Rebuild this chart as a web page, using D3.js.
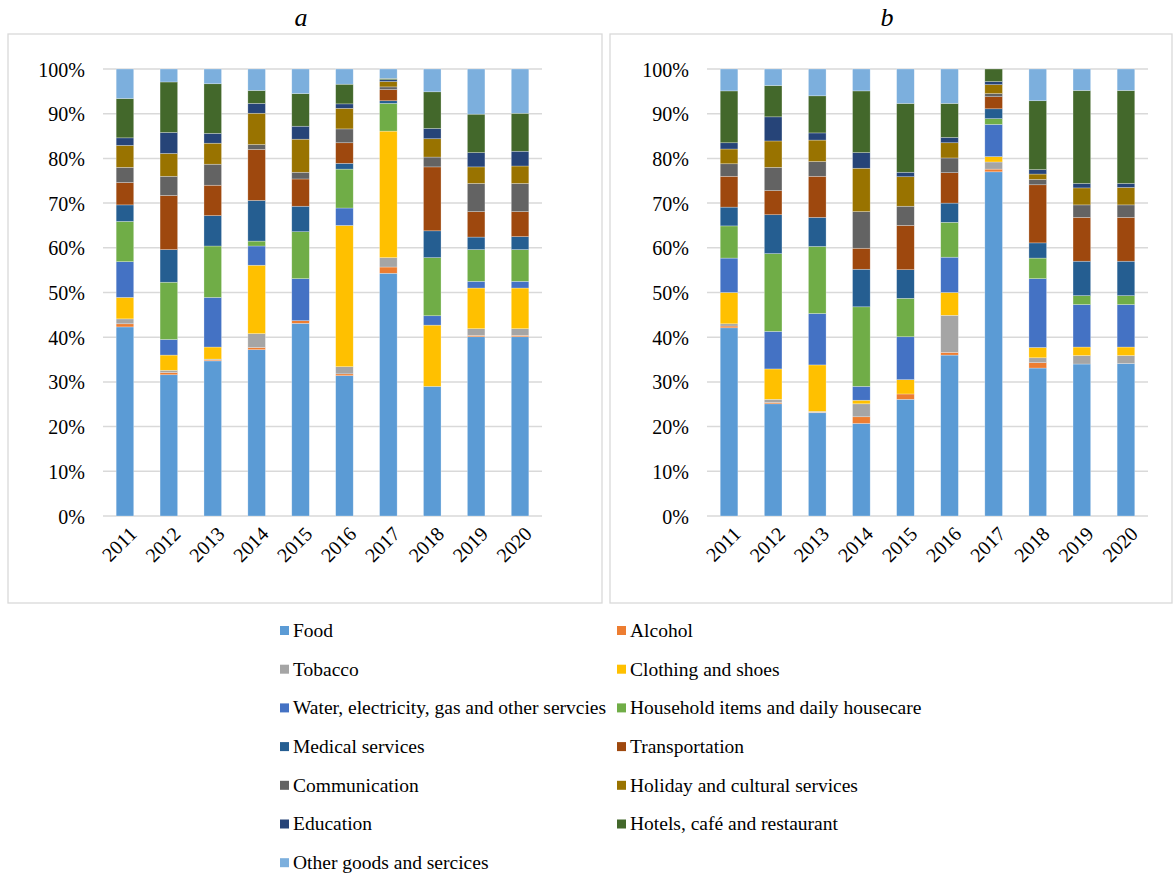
<!DOCTYPE html>
<html>
<head>
<meta charset="utf-8">
<script src="https://cdn.jsdelivr.net/npm/d3@7"></script>
<style>
  body { margin: 0; background: #fff; }
  text { font-family: "Liberation Serif", "Times New Roman", serif; fill: #000; }
</style>
</head>
<body>
<svg id="chart" width="1175" height="874"></svg>
<script>
// years on the x axis
const years = ['2011','2012','2013','2014','2015','2016','2017','2018','2019','2020'];

const categories = [
  'Food', 'Alcohol', 'Tobacco', 'Clothing and shoes',
  'Water, electricity, gas and other servcies', 'Household items and daily housecare',
  'Medical services', 'Transportation', 'Communication',
  'Holiday and cultural services', 'Education', 'Hotels, café and restaurant',
  'Other goods and sercices'
];

const colors = ['#5B9BD5','#ED7D31','#A5A5A5','#FFC000','#4472C4','#70AD47',
                '#255E91','#9E480E','#636363','#997300','#264478','#43682B','#7CAFDD'];

const yTicks = [0, 0.1, 0.2, 0.3, 0.4, 0.5, 0.6, 0.7, 0.8, 0.9, 1];

// panel a, share in % (one row per category, one value per year)
const valuesA = [
  [42.3, 31.6, 34.7, 37.2, 43.1, 31.4, 54.3, 29.0, 40.1, 40.1], // Food
  [0.7, 0.5, 0.2, 0.5, 0.6, 0.4, 1.4, 0, 0.3, 0.3],             // Alcohol
  [1.1, 0.5, 0.2, 3.1, 0, 1.6, 2.1, 0, 1.5, 1.5],               // Tobacco
  [4.8, 3.4, 2.7, 15.3, 0, 31.6, 28.3, 13.7, 9.1, 9.1],         // Clothing
  [8.0, 3.5, 11.1, 4.3, 9.4, 3.9, 0, 2.1, 1.5, 1.5],            // Water etc
  [9.0, 12.8, 11.5, 1.1, 10.5, 8.7, 6.2, 13.0, 7.1, 7.1],       // Household
  [3.7, 7.3, 6.8, 9.1, 5.7, 1.3, 0.6, 6.0, 2.8, 2.9],           // Medical
  [5.0, 12.1, 6.8, 11.4, 6.1, 4.6, 2.5, 14.3, 5.7, 5.6],        // Transportation
  [3.4, 4.3, 4.7, 1.1, 1.5, 3.1, 0.6, 2.2, 6.3, 6.3],           // Communication
  [4.9, 5.1, 4.7, 7.0, 7.4, 4.6, 1.2, 4.1, 3.7, 3.9],           // Holiday
  [1.7, 4.7, 2.2, 2.2, 2.9, 1.0, 0.4, 2.3, 3.2, 3.3],           // Education
  [8.8, 11.3, 11.1, 2.9, 7.3, 4.4, 0.3, 8.2, 8.6, 8.5],         // Hotels
  [6.6, 2.9, 3.3, 4.8, 5.5, 3.4, 2.1, 5.1, 10.1, 9.9]           // Other
];

// panel b
const valuesB = [
  [42.1, 25.1, 23.1, 20.7, 26.1, 36.0, 77.0, 33.1, 34.0, 34.1], // Food
  [0.4, 0.3, 0.1, 1.5, 1.2, 0.6, 0.6, 1.2, 0, 0],               // Alcohol
  [0.5, 0.7, 0.2, 2.9, 0, 8.3, 1.6, 1.1, 1.9, 1.8],             // Tobacco
  [7.0, 6.8, 10.4, 0.8, 3.2, 5.1, 1.2, 2.3, 1.9, 1.9],          // Clothing
  [7.7, 8.4, 11.5, 3.1, 9.6, 7.9, 7.2, 15.4, 9.5, 9.5],         // Water etc
  [7.2, 17.4, 15.0, 17.8, 8.6, 7.8, 1.3, 4.6, 2.0, 2.0],        // Household
  [4.2, 8.7, 6.5, 8.4, 6.4, 4.3, 2.2, 3.4, 7.7, 7.7],           // Medical
  [6.9, 5.4, 9.2, 4.7, 9.9, 6.8, 2.7, 13.0, 9.8, 9.8],          // Transportation
  [2.8, 5.2, 3.3, 8.2, 4.3, 3.3, 0.7, 1.2, 2.8, 2.8],           // Communication
  [3.3, 5.9, 4.8, 9.7, 6.6, 3.4, 2.0, 1.2, 3.8, 3.9],           // Holiday
  [1.4, 5.4, 1.6, 3.5, 1.0, 1.2, 0.7, 1.0, 1.0, 0.9],           // Education
  [11.6, 7.0, 8.3, 13.8, 15.4, 7.6, 2.8, 15.4, 20.8, 20.8],     // Hotels
  [4.9, 3.7, 6.0, 4.9, 7.7, 7.7, 0, 7.1, 4.8, 4.8]              // Other
];

const svg = d3.select('#chart');
const gridColor = '#d9d9d9';

function drawPanel(title, values, frame, plot) {
  // outer frame
  svg.append('rect')
    .attr('x', frame.x).attr('y', frame.y)
    .attr('width', frame.w).attr('height', frame.h)
    .attr('fill', 'none').attr('stroke', gridColor).attr('stroke-width', 1.3);

  svg.append('text')
    .attr('x', frame.x + frame.w / 2 - 4).attr('y', 26)
    .attr('text-anchor', 'middle')
    .style('font-size', '26px').style('font-style', 'italic')
    .text(title);

  const x = d3.scaleBand().domain(years).range([plot.x0, plot.x1]).paddingInner(0.6).paddingOuter(0.3);
  const y = d3.scaleLinear().domain([0, 1]).range([plot.y0, plot.y1]);

  // gridlines
  svg.append('g').selectAll('line').data(yTicks).join('line')
    .attr('x1', plot.x0).attr('x2', plot.x1)
    .attr('y1', d => y(d)).attr('y2', d => y(d))
    .attr('stroke', gridColor).attr('stroke-width', 1.5);

  // y axis labels
  const yAxis = svg.append('g')
    .attr('transform', `translate(${plot.x0 - 18},0)`)
    .call(d3.axisLeft(y).tickValues(yTicks).tickFormat(d3.format('.0%')).tickSize(0));
  yAxis.select('.domain').remove();
  yAxis.selectAll('text').style('font-size', '20px').attr('dy', '0.35em').attr('x', 0);

  // table by year for stacking
  const table = years.map((yr, i) => {
    const row = { year: yr };
    categories.forEach((c, k) => { row[c] = values[k][i]; });
    return row;
  });
  const series = d3.stack().keys(categories).offset(d3.stackOffsetExpand)(table);

  svg.append('g').selectAll('g').data(series).join('g')
    .attr('fill', (d, i) => colors[i])
    .selectAll('rect').data(d => d).join('rect')
      .attr('x', d => x(d.data.year))
      .attr('width', x.bandwidth())
      .attr('y', d => y(d[1]))
      .attr('height', d => Math.max(0, y(d[0]) - y(d[1])))
      .attr('stroke', 'rgba(255,255,255,0.45)')
      .attr('stroke-width', 0.6);

  // x axis
  const xAxis = svg.append('g')
    .attr('transform', `translate(0,${plot.y0})`)
    .call(d3.axisBottom(x).tickSize(0));
  xAxis.select('.domain').remove();
  xAxis.selectAll('text')
    .style('font-size', '20px')
    .attr('text-anchor', 'end')
    .attr('dy', '0.35em')
    .attr('transform', 'translate(6,12) rotate(-45)');
}

drawPanel('a', valuesA,
  { x: 8, y: 34, w: 594, h: 569 },
  { x0: 103, x1: 542, y0: 516, y1: 69 });

drawPanel('b', valuesB,
  { x: 610, y: 34, w: 562, h: 569 },
  { x0: 707, x1: 1148, y0: 516, y1: 69 });

// legend, two columns
const legendRowH = 38.7;
const legend = svg.append('g');
const items = legend.selectAll('g').data(categories).join('g')
  .attr('transform', (d, i) => {
    const col = i % 2;
    const row = Math.floor(i / 2);
    return `translate(${col === 0 ? 280 : 617},${630 + row * legendRowH})`;
  });
items.append('rect')
  .attr('x', 0).attr('y', -4).attr('width', 9).attr('height', 9)
  .attr('fill', (d, i) => colors[i]);
items.append('text')
  .attr('x', 13).attr('y', 0).attr('dy', '0.35em')
  .style('font-size', '19.5px')
  .text(d => d);
</script>
</body>
</html>
